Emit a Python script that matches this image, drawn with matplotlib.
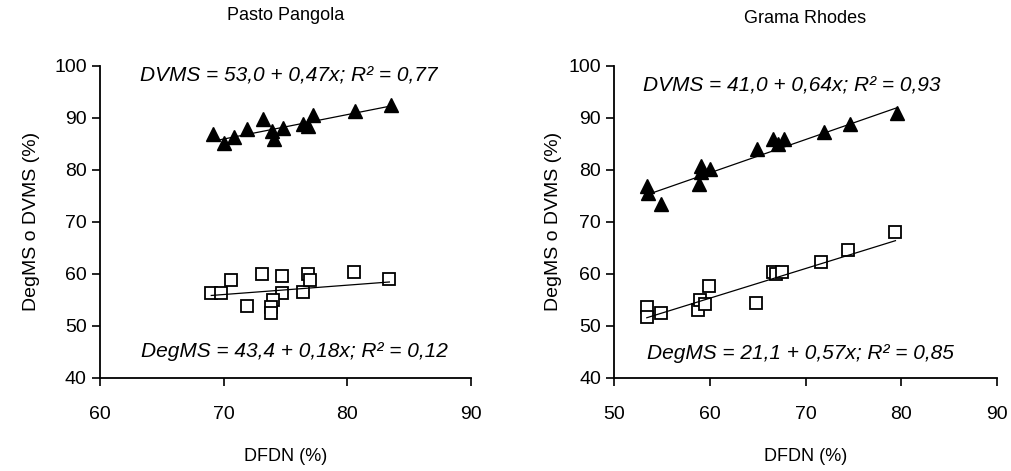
import numpy as np
import matplotlib.pyplot as plt

plt.rcParams['font.family'] = ['Liberation Sans', 'DejaVu Sans']

# Pasto Pangola
pp_dvms_x = [69.1, 70.0, 70.8, 71.9, 73.2, 73.9, 74.1, 74.8, 76.4, 76.8, 77.2, 80.6, 83.5]
pp_dvms_y = [86.8, 85.2, 86.2, 87.8, 89.8, 87.5, 85.9, 88.1, 88.7, 88.4, 90.5, 91.3, 92.4]
pp_deg_x = [69.0, 69.8, 70.6, 71.9, 73.1, 74.7, 74.7, 74.0, 73.8, 73.8, 76.4, 76.8, 77.0, 80.5, 83.4]
pp_deg_y = [56.2, 56.2, 58.7, 53.7, 60.0, 59.5, 56.2, 55.0, 53.6, 52.5, 56.5, 60.0, 58.8, 60.4, 59.0]

# Grama Rhodes
gr_dvms_x = [53.4, 53.5, 54.9, 59.1, 60.0, 59.1, 58.9, 64.9, 66.6, 67.1, 67.7, 71.9, 74.6, 79.6]
gr_dvms_y = [76.9, 75.6, 73.4, 80.7, 80.1, 79.5, 77.2, 83.9, 85.9, 84.9, 85.9, 87.3, 88.8, 91.0]
gr_deg_x = [53.4, 53.4, 54.9, 58.8, 59.0, 59.5, 59.9, 64.8, 66.6, 66.9, 67.5, 71.6, 74.4, 79.4]
gr_deg_y = [53.6, 51.7, 52.5, 53.0, 54.9, 54.1, 57.6, 54.4, 60.3, 60.0, 60.4, 62.2, 64.5, 68.0]

# regression coefficients (intercept, slope) and labels
panels = [
    dict(title='Pasto Pangola', xlim=(60, 90), xticks=[60, 70, 80, 90],
         tri=(pp_dvms_x, pp_dvms_y), sq=(pp_deg_x, pp_deg_y),
         fit_tri=(53.0, 0.47), fit_sq=(43.4, 0.18),
         eq_tri='DVMS = 53,0 + 0,47x; R² = 0,77',
         eq_sq='DegMS = 43,4 + 0,18x; R² = 0,12',
         eq_pos=((75.3, 98.0), (75.7, 45.0)), title_pad=33, ylabel_pad=10),
    dict(title='Grama Rhodes', xlim=(50, 90), xticks=[50, 60, 70, 80, 90],
         tri=(gr_dvms_x, gr_dvms_y), sq=(gr_deg_x, gr_deg_y),
         fit_tri=(41.0, 0.64), fit_sq=(21.1, 0.57),
         eq_tri='DVMS = 41,0 + 0,64x; R² = 0,93',
         eq_sq='DegMS = 21,1 + 0,57x; R² = 0,85',
         eq_pos=((68.6, 96.1), (69.5, 44.7)), title_pad=31, ylabel_pad=5),
]

fig = plt.figure(figsize=(10.12, 4.71), dpi=100)
boxes = [[0.0988, 0.198, 0.3666, 0.6625], [0.607, 0.198, 0.378, 0.6625]]

for box, p in zip(boxes, panels):
    ax = fig.add_axes(box)
    tx, ty = p['tri']
    sx, sy = p['sq']
    ax.plot(tx, ty, linestyle='none', marker='^', markersize=10, color='black')
    ax.plot(sx, sy, linestyle='none', marker='s', markersize=8,
            markerfacecolor='white', markeredgecolor='black', markeredgewidth=1.3)
    for (a, b), xs in [(p['fit_tri'], tx), (p['fit_sq'], sx)]:
        xx = np.array([min(xs), max(xs)])
        ax.plot(xx, a + b * xx, color='black', linewidth=0.9)
    ax.set_xlim(*p['xlim'])
    ax.set_ylim(40, 100)
    ax.set_xticks(p['xticks'])
    ax.set_yticks([40, 50, 60, 70, 80, 90, 100])
    ax.spines['top'].set_visible(False)
    ax.spines['right'].set_visible(False)
    ax.spines['left'].set_linewidth(1.3)
    ax.spines['bottom'].set_linewidth(1.3)
    ax.tick_params(direction='out', length=6, width=1.2, labelsize=14)
    ax.tick_params(axis='x', pad=14)
    ax.set_title(p['title'], fontsize=13, pad=p['title_pad'])
    ax.set_xlabel('DFDN (%)', fontsize=13, labelpad=18)
    ax.set_ylabel('DegMS o DVMS (%)', fontsize=14, labelpad=p['ylabel_pad'])
    (x1, y1), (x2, y2) = p['eq_pos']
    ax.text(x1, y1, p['eq_tri'], style='italic', fontsize=15, ha='center', va='center')
    ax.text(x2, y2, p['eq_sq'], style='italic', fontsize=15, ha='center', va='center')

fig.savefig('out.png', dpi=100)
